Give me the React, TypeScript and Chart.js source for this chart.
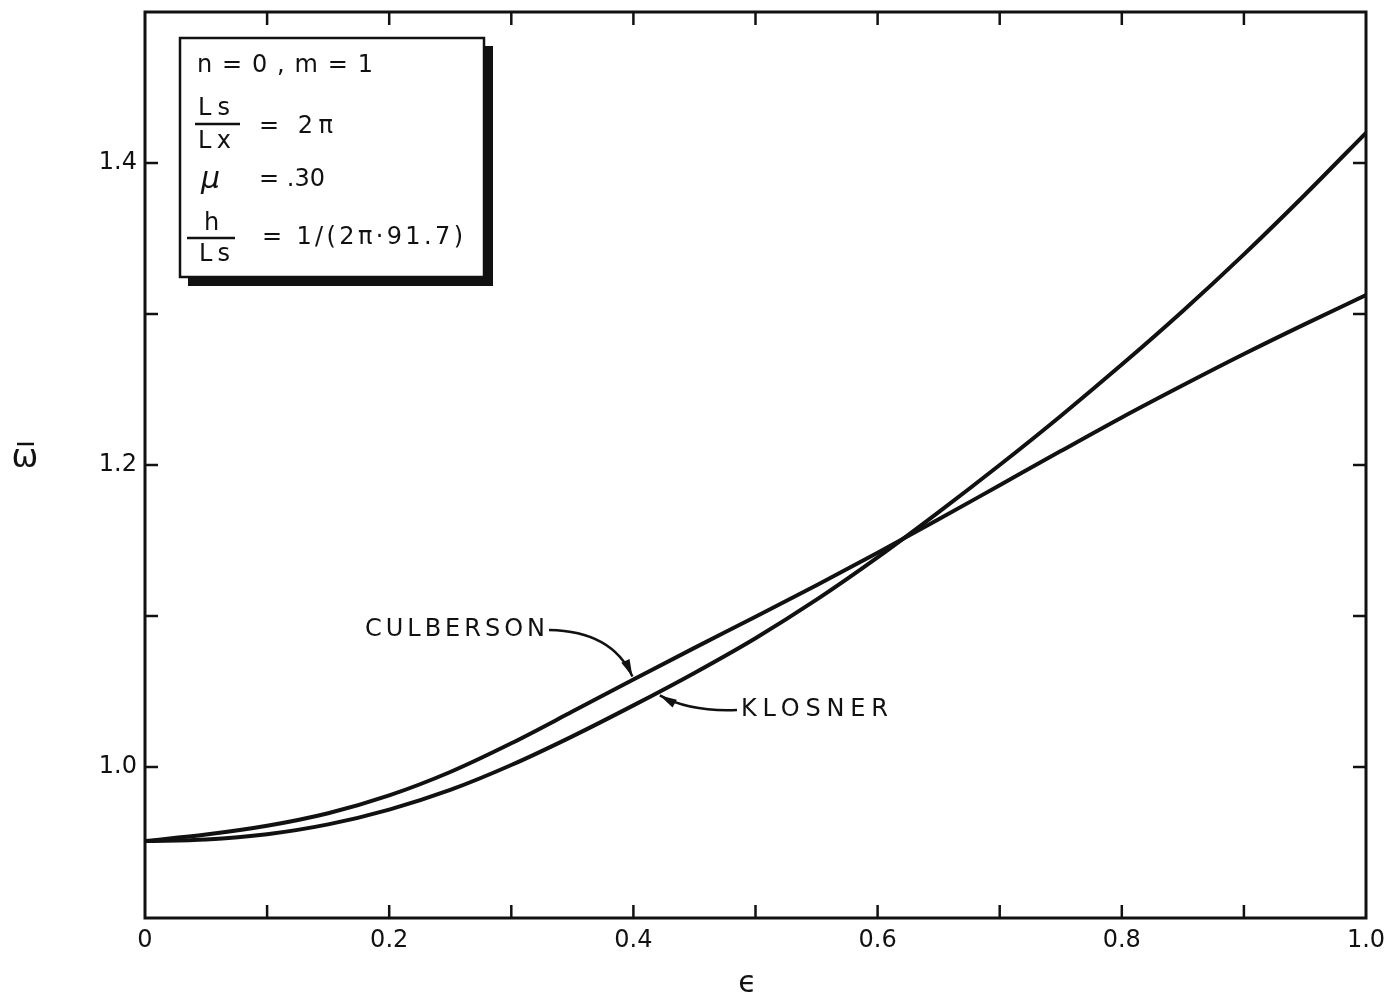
import React, { useEffect, useRef } from "react";
import { Chart, registerables } from "chart.js";

Chart.register(...registerables);

// Non-dimensional frequency ω̄ versus eccentricity ε for the two theories
const epsilon = [0, 0.05, 0.1, 0.15, 0.2, 0.25, 0.3, 0.35, 0.4, 0.45, 0.5, 0.55, 0.6, 0.65, 0.7, 0.75, 0.8, 0.85, 0.9, 0.95, 1.0];
const culberson = [0.951, 0.9553, 0.9611, 0.9694, 0.9812, 0.9967, 1.0157, 1.0367, 1.058, 1.0789, 1.0995, 1.1204, 1.1419, 1.164, 1.1866, 1.2092, 1.2315, 1.2528, 1.2735, 1.2933, 1.3125];
const klosner = [0.951, 0.952, 0.9555, 0.962, 0.9718, 0.9848, 1.0013, 1.0203, 1.0408, 1.0623, 1.0853, 1.1108, 1.1388, 1.1688, 1.2, 1.2325, 1.2665, 1.302, 1.3395, 1.379, 1.42];

const xTickLabels = ["0", "0.2", "0.4", "0.6", "0.8", "1.0"];
const yTickLabels = ["1.0", "1.2", "1.4"];

const INK = "#111111";
const FONT = "'DejaVu Sans', 'Liberation Sans', sans-serif";

// value of a series at an arbitrary ε (linear between tabulated points)
function valueAt(series: number[], e: number): number {
  for (let i = 0; i < epsilon.length - 1; i++) {
    if (e >= epsilon[i] && e <= epsilon[i + 1]) {
      const t = (e - epsilon[i]) / (epsilon[i + 1] - epsilon[i]);
      return series[i] + t * (series[i + 1] - series[i]);
    }
  }
  return series[series.length - 1];
}

// draw text starting at `left`, vertically centred on `cy`, spread to `width`
function spacedText(ctx: CanvasRenderingContext2D, text: string, left: number, cy: number, width: number, font: string) {
  ctx.font = font;
  ctx.textAlign = "left";
  ctx.textBaseline = "middle";
  (ctx as any).letterSpacing = "0px";
  const natural = ctx.measureText(text).width;
  const n = Math.max(1, Array.from(text).length - 1);
  const ls = Math.max(0, (width - natural) / n);
  (ctx as any).letterSpacing = ls + "px";
  ctx.fillText(text, left, cy);
  (ctx as any).letterSpacing = "0px";
}

function line(ctx: CanvasRenderingContext2D, x1: number, y1: number, x2: number, y2: number) {
  ctx.beginPath();
  ctx.moveTo(x1, y1);
  ctx.lineTo(x2, y2);
  ctx.stroke();
}

function arrow(ctx: CanvasRenderingContext2D, sx: number, sy: number, cx: number, cy: number, ex: number, ey: number) {
  ctx.beginPath();
  ctx.moveTo(sx, sy);
  ctx.quadraticCurveTo(cx, cy, ex, ey);
  ctx.stroke();
  const dx = ex - cx;
  const dy = ey - cy;
  const len = Math.hypot(dx, dy) || 1;
  const ux = dx / len;
  const uy = dy / len;
  const L = 17;
  const W = 4.5;
  const bx = ex - ux * L;
  const by = ey - uy * L;
  ctx.beginPath();
  ctx.moveTo(ex, ey);
  ctx.lineTo(bx - uy * W, by + ux * W);
  ctx.lineTo(bx + uy * W, by - ux * W);
  ctx.closePath();
  ctx.fill();
}

const framePlugin = {
  id: "frameAndTicks",
  beforeDraw(chart: any) {
    const { ctx, width, height } = chart;
    ctx.save();
    ctx.fillStyle = "#ffffff";
    ctx.fillRect(0, 0, width, height);
    ctx.restore();
  },
  afterDraw(chart: any) {
    const { ctx, chartArea: a, scales } = chart;
    ctx.save();
    ctx.strokeStyle = INK;
    ctx.fillStyle = INK;
    ctx.lineCap = "butt";

    // inward tick marks on all four sides
    ctx.lineWidth = 2.5;
    const T = 13;
    scales.x.ticks.forEach((t: any) => {
      const p = scales.x.getPixelForValue(t.value);
      if (p <= a.left + 3 || p >= a.right - 3) return;
      line(ctx, p, a.bottom, p, a.bottom - T);
      line(ctx, p, a.top, p, a.top + T);
    });
    scales.y.ticks.forEach((t: any) => {
      const p = scales.y.getPixelForValue(t.value);
      if (p <= a.top + 3 || p >= a.bottom - 3) return;
      line(ctx, a.left, p, a.left + T, p);
      line(ctx, a.right, p, a.right - T, p);
    });

    // plot frame
    ctx.lineWidth = 3;
    ctx.strokeRect(a.left, a.top, a.right - a.left, a.bottom - a.top);

    // axis symbols
    ctx.textAlign = "center";
    ctx.textBaseline = "middle";
    ctx.font = `30px ${FONT}`;
    ctx.fillText("\u03F5", (a.left + a.right) / 2 - 8, 984);
    ctx.font = `32px ${FONT}`;
    ctx.fillText("\u03C9", 25, 459);
    ctx.lineWidth = 2.5;
    line(ctx, 17, 444, 34, 444);

    // parameter box with drop shadow
    ctx.fillRect(188, 46, 305, 240);
    ctx.fillStyle = "#ffffff";
    ctx.fillRect(180, 38, 304, 239);
    ctx.fillStyle = INK;
    ctx.lineWidth = 2.5;
    ctx.strokeRect(180, 38, 304, 239);

    const f = `24px ${FONT}`;
    spacedText(ctx, "n = 0 , m = 1", 197, 66, 176, f);
    spacedText(ctx, "Ls", 198, 109, 32, f);
    line(ctx, 195, 124, 240, 124);
    spacedText(ctx, "Lx", 198, 142, 33, f);
    spacedText(ctx, "= 2\u03C0", 259, 127, 74, f);
    ctx.font = `italic 30px ${FONT}`;
    ctx.textAlign = "left";
    ctx.fillText("\u03BC", 201, 180);
    spacedText(ctx, "= .30", 259, 180, 66, f);
    spacedText(ctx, "h", 204, 224, 22, f);
    line(ctx, 187, 238, 235, 238);
    spacedText(ctx, "Ls", 199, 255, 31, f);
    spacedText(ctx, "= 1/(2\u03C0\u00B791.7)", 262, 238, 201, f);

    // curve labels with leader arrows
    spacedText(ctx, "CULBERSON", 365, 630, 180, f);
    spacedText(ctx, "KLOSNER", 741, 710, 147, f);

    ctx.lineWidth = 2.5;
    const cx = scales.x.getPixelForValue(0.4);
    const cy = scales.y.getPixelForValue(valueAt(culberson, 0.4));
    arrow(ctx, 549, 630, 612, 631, cx - 1, cy - 3);
    const kx = scales.x.getPixelForValue(0.42);
    const ky = scales.y.getPixelForValue(valueAt(klosner, 0.42));
    arrow(ctx, 737, 710, 690, 712, kx + 2, ky + 3);

    ctx.restore();
  },
};

export default function App() {
  const canvasRef = useRef<HTMLCanvasElement | null>(null);

  useEffect(() => {
    const canvas = canvasRef.current;
    if (!canvas) return;
    const chart = new Chart(canvas, {
      type: "line",
      data: {
        datasets: [
          {
            label: "CULBERSON",
            data: epsilon.map((e, i) => ({ x: e, y: culberson[i] })),
            borderColor: INK,
            borderWidth: 4,
            pointRadius: 0,
            cubicInterpolationMode: "monotone",
            fill: false,
          },
          {
            label: "KLOSNER",
            data: epsilon.map((e, i) => ({ x: e, y: klosner[i] })),
            borderColor: INK,
            borderWidth: 4,
            pointRadius: 0,
            cubicInterpolationMode: "monotone",
            fill: false,
          },
        ],
      },
      options: {
        animation: false,
        responsive: false,
        layout: { padding: { top: 12, right: 24, left: 0, bottom: 0 } },
        plugins: { legend: { display: false }, tooltip: { enabled: false } },
        scales: {
          x: {
            type: "linear",
            min: 0,
            max: 1,
            grid: { display: false, drawTicks: false },
            border: { display: false },
            ticks: {
              stepSize: 0.1,
              autoSkip: false,
              maxRotation: 0,
              padding: 8,
              color: INK,
              font: { family: FONT, size: 24 },
              callback: (v: any) => {
                const k = Math.round(Number(v) * 10);
                return k % 2 === 0 ? xTickLabels[k / 2] : "";
              },
            },
            afterFit: (s: any) => {
              s.height = 76;
              s.paddingLeft = 0;
              s.paddingRight = 0;
            },
          },
          y: {
            type: "linear",
            min: 0.9,
            max: 1.5,
            grid: { display: false, drawTicks: false },
            border: { display: false },
            ticks: {
              stepSize: 0.1,
              autoSkip: false,
              padding: 8,
              color: INK,
              font: { family: FONT, size: 24 },
              callback: (v: any) => {
                const k = Math.round(Number(v) * 10);
                return k >= 10 && k <= 14 && k % 2 === 0 ? yTickLabels[(k - 10) / 2] : "";
              },
            },
            afterFit: (s: any) => {
              s.width = 145;
              s.paddingTop = 0;
              s.paddingBottom = 0;
            },
          },
        },
      },
      plugins: [framePlugin],
    } as any);
    return () => chart.destroy();
  }, []);

  return (
    <div style={{ position: "absolute", left: 0, top: 0, width: 1390, height: 994, background: "#fff" }}>
      <canvas ref={canvasRef} width={1390} height={994} style={{ display: "block" }} />
    </div>
  );
}
